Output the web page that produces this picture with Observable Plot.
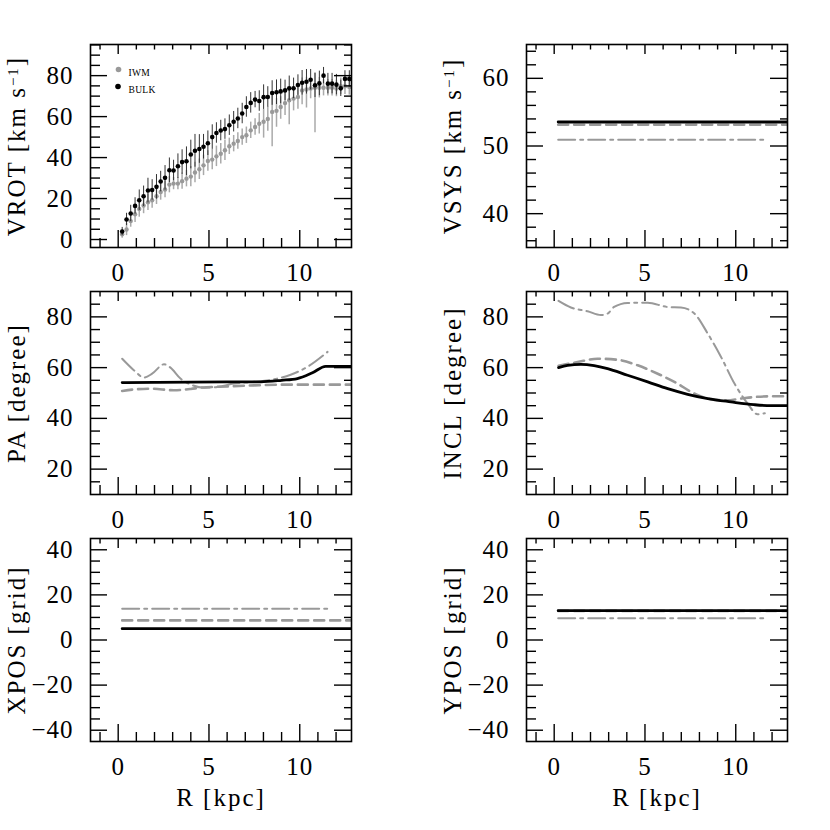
<!DOCTYPE html>
<html><head><meta charset="utf-8">
<script src="https://cdn.jsdelivr.net/npm/d3@7"></script>
<script src="https://cdn.jsdelivr.net/npm/@observablehq/plot@0.6"></script>
<style>
body{margin:0;background:#fff;}
#chart{position:relative;width:830px;height:830px;background:#fff;overflow:hidden;}
#chart svg{position:absolute;}
#chart svg text{letter-spacing:1px;}
</style></head><body><div id="chart"></div>
<script>
// ---------- data ----------
const R = [0.22,0.46,0.69,0.93,1.16,1.40,1.64,1.87,2.11,2.34,2.58,2.82,3.05,3.29,3.52,3.76,4.00,4.23,4.47,4.70,4.94,5.18,5.41,5.65,5.88,6.12,6.36,6.59,6.83,7.06,7.30,7.54,7.77,8.01,8.24,8.48,8.72,8.95,9.19,9.42,9.66,9.90,10.13,10.37,10.60,10.84,11.08,11.31,11.55,11.78,12.02,12.26,12.49,12.73];
const vrotBulk = [3.9,9.8,12.7,16.4,19.2,21.1,23.9,24.2,25.7,28.3,30.1,33.8,33.7,35.8,37.8,38.2,41.5,43.3,44.2,45.3,47.0,50.0,52.0,53.2,53.9,55.8,57.5,59.1,61.5,64.7,66.7,68.3,67.6,69.5,69.6,71.5,71.9,72.3,72.8,73.8,73.8,75.4,76.5,77.0,78.0,75.3,76.2,80.0,76.1,76.1,75.6,73.8,78.4,78.4];
const bulkErr = [2,3,4,4,5,5,6,5,6,5,6,6,5,6,6,7,7,8,7,6,6,6,5,5,5,5,5,5,5,5,5,4,5,6,5,6,6,6,5,6,5,5,6,6,5,6,6,4,5,5,5,4,4,4];
const vrotIwm = [2.6,4.9,9.0,12.3,14.9,16.6,18.2,19.2,21.1,23.2,24.4,26.8,27.3,27.3,28.5,29.7,30.7,32.7,34.3,36.2,38.3,39.0,40.6,41.9,43.6,45.5,46.8,48.1,50.0,50.9,53.3,54.9,56.5,57.5,58.8,62.3,62.8,64.7,66.6,68.0,68.8,69.6,72.8,73.2,73.7,74.1,74.1,74.1,74.1,74.1,73.7,74.8,74.8,74.5];
const iwmErrLo = [2,3,3,4,4,4,4,4,4,4,4,4,3,3,4,4,5,5,5,5,5,5,5,5,5,4,4,4,4,4,4,4,5,8,6,17,8,6,6,12,6,6,7,9,5,22,5,4,4,4,4,4,4,4];
const iwmErrHi = [2,3,3,4,4,4,4,4,4,4,4,4,3,3,4,4,5,5,5,5,5,5,5,5,5,4,4,4,4,4,4,4,5,6,6,8,6,5,5,6,5,6,6,6,5,7,5,4,4,4,4,4,4,4];

// model curves (R in kpc, values)
const vsysSolidR = [0.22,12.87], vsysSolid = [53.55,53.55];
const vsysDashR = [0.22,12.87], vsysDash = [53.15,53.15];
const vsysDotR = [0.22,11.58], vsysDot = [50.93,50.93];

const paSolidR = [0.22,2,4,6,7.85,9,9.87,10.7,11.43,12.87];
const paSolid = [54.1,54.2,54.3,54.4,54.4,55.0,55.7,58.0,60.5,60.5];
const paDashR = [0.22,1.0,1.78,3.07,4.0,4.54,6.01,7.48,9.13,12.87];
const paDash = [50.8,51.5,51.7,51.1,51.6,52.1,52.6,53.0,53.3,53.3];
const paDotR = [0.22,0.86,1.42,1.87,2.52,2.88,3.43,3.98,4.72,5.46,6.38,7.48,8.58,9.5,10.42,11.53];
const paDot = [63.5,59.0,56.1,57.6,61.3,60.0,55.7,53.4,52.1,52.4,53.7,54.4,55.4,57.2,60.3,66.2];

const inclSolidR = [0.24,0.74,1.47,2.2,2.94,4.04,5.15,6.25,7.35,8.46,9.74,11.0,11.95,12.87];
const inclSolid = [60.0,60.9,61.3,60.8,59.6,57.0,54.4,51.7,49.5,47.8,46.5,45.4,45.0,45.0];
const inclDashR = [0.24,1.29,2.39,3.49,4.6,5.7,6.62,7.72,8.64,9.5,10.3,11.0,11.95,12.87];
const inclDash = [60.7,62.2,63.5,63.1,60.9,57.6,54.4,49.8,47.5,47.1,47.8,48.4,48.7,48.7];
const inclDotR = [0.24,0.92,1.84,2.57,2.94,3.3,4.04,5.15,6.25,6.98,7.72,8.46,9.19,9.93,10.66,11.2,11.6];
const inclDot = [86.3,83.7,82.2,80.7,81.3,83.9,85.5,85.6,83.9,83.7,81.3,73.4,64.2,53.7,45.8,41.6,42.0];

const xposSolidR = [0.22,12.87], xposSolid = [5.0,5.0];
const xposDashR = [0.22,12.87], xposDash = [8.7,8.7];
const xposDotR = [0.22,11.6], xposDot = [13.9,13.9];

const yposSolidR = [0.22,12.87], yposSolid = [13.0,13.0];
const yposDashR = [0.22,12.87], yposDash = [12.9,12.9];
const yposDotR = [0.22,11.58], yposDot = [9.6,9.6];

// axes
const xDomain = [-1.525, 12.85];
const xMajor = [0,5,10];
const xMinor = [-1,1,2,3,4,6,7,8,9,11,12];
const vrotMajor = [0,20,40,60,80], vrotMinor = [5,10,15,25,30,35,45,50,55,65,70,75,85,90,95];
const vsysMajor = [40,50,60], vsysMinor = [36,38,42,44,46,48,52,54,56,58,62,64];
const angMajor = [20,40,60,80], angMinor = [15,25,30,35,45,50,55,65,70,75,85];
const posMajor = [-40,-20,0,20,40], posMinor = [-35,-30,-25,-15,-10,-5,5,10,15,25,30,35];
const legendLabels = ["IWM","BULK"];
const xLabel = "R [kpc]";

// ---------- drawing ----------
const W=361, H=274, ML=90, MR=10, MT=10, MB=61;
const FW=W-ML-MR, FH=H-MT-MB;
const FONT = "'Liberation Serif','DejaVu Serif',serif";
const GRAY = "#999";
const fmt = d => d < 0 ? "\u2212" + Math.abs(d) : String(d);
const pts = (rs, vs) => rs.map((r,i) => ({r, v: vs[i]}));

function styleLines(s, d, o){
  return [
    {r:o[0], v:o[1], color:GRAY, width:2, dash:"17,5,3,5"},
    {r:d[0], v:d[1], color:GRAY, width:2.6, dash:"10,6"},
    {r:s[0], v:s[1], color:"#000", width:2.8, dash:null}
  ];
}

function panel(cfg){
  const marks = [];
  if (cfg.lines) for (const ln of cfg.lines) {
    marks.push(Plot.line(pts(ln.r, ln.v), {x:"r", y:"v", stroke:ln.color, strokeWidth:ln.width,
      strokeDasharray:ln.dash, curve:"monotone-x", clip:true}));
  }
  if (cfg.vrot) {
    const iwm = R.map((r,i)=>({r, v:vrotIwm[i], lo:vrotIwm[i]-iwmErrLo[i], hi:vrotIwm[i]+iwmErrHi[i]}));
    const bulk = R.map((r,i)=>({r, v:vrotBulk[i], lo:vrotBulk[i]-bulkErr[i], hi:vrotBulk[i]+bulkErr[i]}));
    marks.push(Plot.ruleX(iwm, {x:"r", y1:"lo", y2:"hi", stroke:"#aaa", strokeWidth:1.5, clip:true}));
    marks.push(Plot.dot(iwm, {x:"r", y:"v", r:2.2, fill:GRAY, clip:true}));
    marks.push(Plot.ruleX(bulk, {x:"r", y1:"lo", y2:"hi", stroke:"#333", strokeWidth:1, clip:true}));
    marks.push(Plot.dot(bulk, {x:"r", y:"v", r:2.3, fill:"#000", clip:true}));
    marks.push(Plot.dot([legendLabels[0]], {frameAnchor:"top-left", dx:28, dy:25, r:2.8, fill:GRAY}));
    marks.push(Plot.dot([legendLabels[1]], {frameAnchor:"top-left", dx:27.5, dy:42, r:2.8, fill:"#000"}));
    marks.push(Plot.text([legendLabels[0]], {frameAnchor:"top-left", dx:38, dy:25, text:d=>d, textAnchor:"start", fontSize:9.5}));
    marks.push(Plot.text([legendLabels[1]], {frameAnchor:"top-left", dx:38, dy:42, text:d=>d, textAnchor:"start", fontSize:9.5}));
  }
  const tk = {stroke:"#000", strokeWidth:1.4};
  // x ticks (bottom, top)
  marks.push(Plot.tickX(xMajor, {x:d=>d, insetTop:FH-17, ...tk}));
  marks.push(Plot.tickX(xMinor, {x:d=>d, insetTop:FH-9, ...tk}));
  marks.push(Plot.tickX(xMajor, {x:d=>d, insetBottom:FH-10, ...tk}));
  marks.push(Plot.tickX(xMinor, {x:d=>d, insetBottom:FH-5.5, ...tk}));
  // y ticks (left, right)
  marks.push(Plot.tickY(cfg.major, {y:d=>d, insetRight:FW-17, ...tk}));
  marks.push(Plot.tickY(cfg.minor, {y:d=>d, insetRight:FW-10, ...tk}));
  marks.push(Plot.tickY(cfg.major, {y:d=>d, insetLeft:FW-17, ...tk}));
  marks.push(Plot.tickY(cfg.minor, {y:d=>d, insetLeft:FW-7, ...tk}));
  marks.push(Plot.frame({stroke:"#000", strokeWidth:1.6}));
  // labels
  marks.push(Plot.text(xMajor, {x:d=>d, text:fmt, frameAnchor:"bottom", dy:16, lineAnchor:"top", textAnchor:"middle"}));
  marks.push(Plot.text(cfg.major, {y:d=>d, text:fmt, frameAnchor:"left", dx:-17, textAnchor:"end"}));
  marks.push(Plot.text([cfg.label], {frameAnchor:"left", dx:-66, rotate:-90, lineAnchor:"bottom", textAnchor:"middle", text:d=>d}));
  if (cfg.xlabel) marks.push(Plot.text([xLabel], {frameAnchor:"bottom", dy:64, lineAnchor:"bottom", textAnchor:"middle", text:d=>d}));
  const svg = Plot.plot({
    width:W, height:H, marginLeft:ML, marginRight:MR, marginTop:MT, marginBottom:MB,
    x:{domain:xDomain, axis:null}, y:{domain:cfg.domain, axis:null},
    style:{fontFamily:FONT, fontSize:"25px", background:"transparent", overflow:"visible"},
    marks
  });
  svg.style.left = cfg.left + "px";
  svg.style.top = cfg.top + "px";
  // axis title: wider letter spacing, superscript unit
  d3.select(svg).selectAll("text").each(function(){
    const t = this.textContent;
    if (t === cfg.label || t === xLabel) {
      this.style.letterSpacing = "2px";
      if (t.includes("s^-1")) {
        const parts = t.split("s^-1");
        const sel = d3.select(this); sel.text(null);
        sel.append("tspan").text(parts[0] + "s");
        sel.append("tspan").attr("dy","-0.42em").attr("font-size","0.6em").text("\u22121");
        sel.append("tspan").attr("dy","0.25em").text(parts[1]);
      }
    }
    if (legendLabels.includes(t)) this.style.letterSpacing = "0.3px";
  });
  document.getElementById("chart").appendChild(svg);
}

const LX = 0, RX = 435.5;
panel({left:LX, top:34, domain:[-3.9,95.2], major:vrotMajor, minor:vrotMinor, label:"VROT [km s^-1]", vrot:true});
panel({left:RX, top:34, domain:[35,65], major:vsysMajor, minor:vsysMinor, label:"VSYS [km s^-1]",
  lines:styleLines([vsysSolidR,vsysSolid],[vsysDashR,vsysDash],[vsysDotR,vsysDot])});
panel({left:LX, top:281, domain:[10,90], major:angMajor, minor:angMinor, label:"PA [degree]",
  lines:styleLines([paSolidR,paSolid],[paDashR,paDash],[paDotR,paDot])});
panel({left:RX, top:281, domain:[10,90], major:angMajor, minor:angMinor, label:"INCL [degree]",
  lines:styleLines([inclSolidR,inclSolid],[inclDashR,inclDash],[inclDotR,inclDot])});
panel({left:LX, top:528, domain:[-45,45], major:posMajor, minor:posMinor, label:"XPOS [grid]", xlabel:true,
  lines:styleLines([xposSolidR,xposSolid],[xposDashR,xposDash],[xposDotR,xposDot])});
panel({left:RX, top:528, domain:[-45,45], major:posMajor, minor:posMinor, label:"YPOS [grid]", xlabel:true,
  lines:styleLines([yposSolidR,yposSolid],[yposDashR,yposDash],[yposDotR,yposDot])});
</script></body></html>
